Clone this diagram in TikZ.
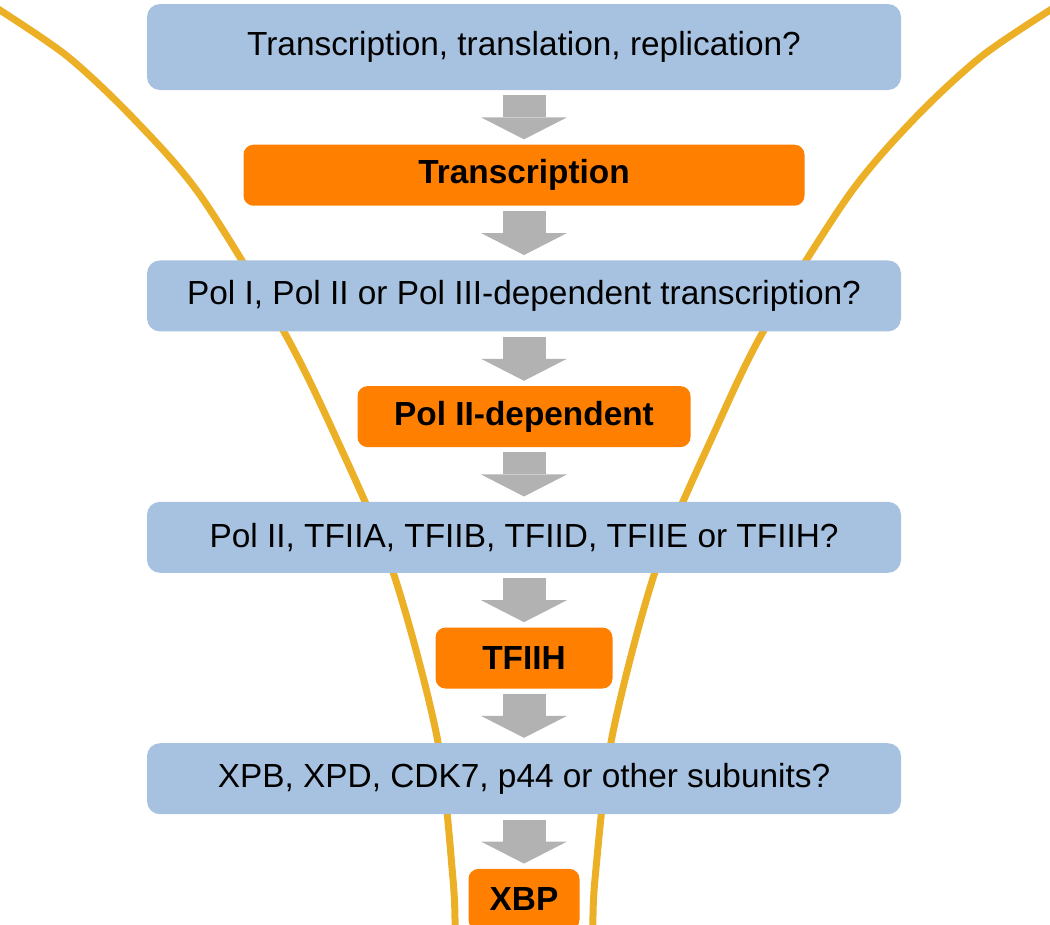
\documentclass[tikz,border=0pt]{standalone}
\usepackage{fontspec}
\setmainfont{Liberation Sans}
\usepackage{tikz}
\usepackage{xcolor}
\usetikzlibrary{arrows.meta,positioning}
\tikzset{
        question/.style={
            rectangle, fill=boxblue, minimum width=15.08cm,
            text centered, rounded corners=0.26cm,
            minimum height=1.42cm, inner sep=0pt,
            font=\fontsize{19}{23}\selectfont
        },
        answer/.style={
            rectangle, fill=boxorange,
            text centered, rounded corners=0.2cm,
            minimum height=1.22cm, inner sep=0pt,
            font=\fontsize{19}{23}\selectfont\bfseries
        },
        flow/.style={
            draw, color=arrowgray, line width=0.86cm,
            -{Triangle[length=0.44cm, width=1.72cm, line width=0pt]},
            shorten <=0.1cm, shorten >=0.1cm
        },
        funnel/.style={
            draw=funnelgold, line width=0.14cm
        }
    }
\definecolor{boxblue}{RGB}{167,194,224}
\definecolor{boxorange}{RGB}{255,127,0}
\definecolor{arrowgray}{RGB}{178,178,178}
\definecolor{funnelgold}{RGB}{236,176,38}

\begin{document}
\begin{tikzpicture}[
    node distance = 1.08cm,
  ]
    \useasboundingbox (0,0) rectangle (21,-18.5);

    \draw[funnel] plot[smooth] coordinates {(-0.1,-0.14) (1.34,-1.12) (2.66,-2.36) (4.0,-3.9) (5.66,-6.6)
        (6.66,-8.62) (7.84,-11.38) (8.74,-14.74) (9.06,-17.58) (9.1,-18.6)};
    \draw[funnel] plot[smooth] coordinates {(21.1,-0.14) (19.64,-1.12) (18.3,-2.36) (16.98,-3.9) (15.28,-6.6)
        (14.3,-8.62) (13.12,-11.38) (12.24,-14.74) (11.9,-17.58) (11.86,-18.6)};

    \node[question, minimum height=1.72cm] (q1) at (10.48,-0.94) {Transcription, translation, replication?};
    \node[answer, below=of q1, minimum width=11.22cm] (a1) {Transcription};
    \node[question, below=of a1] (q2) {Pol I, Pol II or Pol III-dependent transcription?};
    \node[answer, below=of q2, minimum width=6.66cm] (a2) {Pol II-dependent};
    \node[question, below=of a2] (q3) {Pol II, TFIIA, TFIIB, TFIID, TFIIE or TFIIH?};
    \node[answer, below=of q3, minimum width=3.54cm] (a3) {TFIIH};
    \node[question, below=of a3] (q4) {XPB, XPD, CDK7, p44 or other subunits?};
    \node[answer, below=of q4, minimum width=2.22cm] (a4) {XBP};

    \path[flow]
    (q1) edge (a1)
    (a1) edge (q2)
    (q2) edge (a2)
    (a2) edge (q3)
    (q3) edge (a3)
    (a3) edge (q4)
    (q4) edge (a4);

\end{tikzpicture}
\end{document}
